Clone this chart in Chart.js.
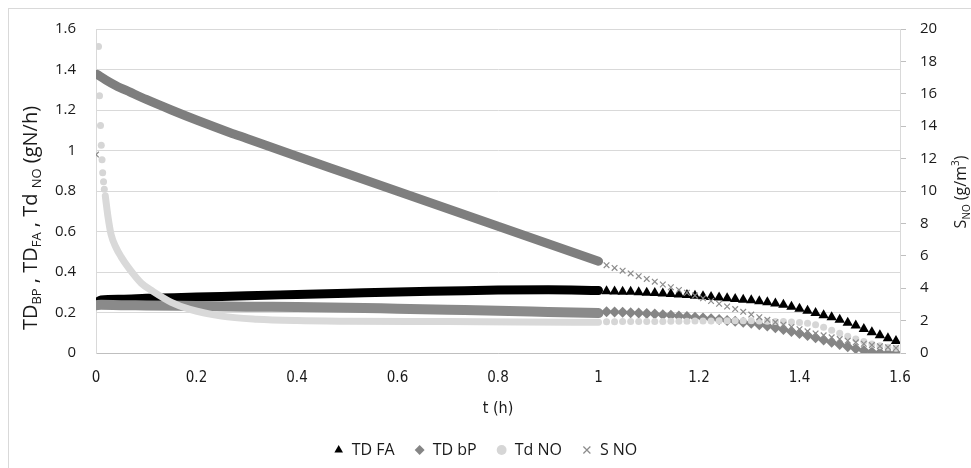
<!DOCTYPE html>
<html>
<head>
<meta charset="utf-8">
<script src="https://cdn.jsdelivr.net/npm/chart.js@4.4.1/dist/chart.umd.min.js"></script>
<style>
  html, body { margin: 0; padding: 0; background: #fff; }
  #frame { position: absolute; left: 8px; top: 8px; width: 1200px; height: 800px;
           border-left: 1px solid #d9d9d9; border-top: 1px solid #d9d9d9; }
  #chart { position: absolute; left: 0; top: 0; }
</style>
</head>
<body>
<div id="frame"></div>
<canvas id="chart" width="971" height="468"></canvas>
<script>
// dense part of the run (0 - 1 h): values read along the middle of each band
const bandT = [0, 0.01, 0.05, 0.1, 0.2, 0.3, 0.4, 0.5, 0.6, 0.7, 0.8, 0.9, 1.0];
const bandFA = [0.245, 0.262, 0.266, 0.270, 0.276, 0.283, 0.289, 0.295, 0.301, 0.306, 0.311, 0.312, 0.309];
const bandBP = [0.236, 0.238, 0.236, 0.235, 0.232, 0.229, 0.227, 0.224, 0.219, 0.214, 0.209, 0.203, 0.197];

const earlyNoT = [0.005, 0.007, 0.009, 0.0105, 0.012, 0.0133, 0.015, 0.0165];
const earlyNo = [1.513, 1.27, 1.124, 1.026, 0.954, 0.89, 0.846, 0.809];
const noBandT = [0.0185, 0.024, 0.03, 0.04, 0.05, 0.065, 0.09, 0.114, 0.15, 0.187, 0.25, 0.32, 0.4, 0.5, 0.7, 0.85, 1.0];
const noBand = [0.776, 0.67, 0.585, 0.52, 0.475, 0.42, 0.345, 0.303, 0.25, 0.215, 0.182, 0.167, 0.160, 0.157, 0.155, 0.153, 0.152];

const sFirstT = 0, sFirst = 12.25;
const sBandT = [0.002, 0.02, 0.04, 0.068, 0.1, 0.15, 0.2, 0.267, 0.3, 0.4, 0.5, 0.6, 0.7, 0.8, 0.9, 1.0];
const sBand = [17.2, 16.85, 16.5, 16.1, 15.65, 15.0, 14.38, 13.6, 13.24, 12.14, 11.06, 9.98, 8.9, 7.82, 6.74, 5.66];

// sparse part (1 - 1.6 h), one marker each
const sparseT = [1.016, 1.032, 1.048, 1.064, 1.08, 1.096, 1.112, 1.128, 1.144, 1.16, 1.176, 1.192,
    1.208, 1.224, 1.24, 1.256, 1.272, 1.288, 1.304, 1.32, 1.336, 1.352, 1.368, 1.384, 1.4, 1.416,
    1.432, 1.448, 1.464, 1.48, 1.496, 1.512, 1.528, 1.544, 1.56, 1.576, 1.592];
const tdFA = [0.305, 0.304, 0.303, 0.302, 0.300, 0.298, 0.296, 0.294, 0.291, 0.289, 0.286, 0.283,
    0.280, 0.277, 0.274, 0.270, 0.267, 0.263, 0.260, 0.256, 0.251, 0.245, 0.238, 0.229, 0.219, 0.209,
    0.198, 0.187, 0.176, 0.164, 0.150, 0.136, 0.119, 0.103, 0.088, 0.073, 0.059];
const tdBP = [0.204, 0.203, 0.201, 0.199, 0.197, 0.195, 0.192, 0.189, 0.186, 0.183, 0.180, 0.177,
    0.173, 0.169, 0.165, 0.161, 0.157, 0.152, 0.147, 0.140, 0.133, 0.125, 0.116, 0.106, 0.096, 0.086,
    0.075, 0.064, 0.053, 0.042, 0.031, 0.021, 0.012, 0.005, 0.001, 0, 0];
const tdNO = [0.154, 0.154, 0.155, 0.155, 0.155, 0.156, 0.156, 0.156, 0.157, 0.157, 0.157, 0.158,
    0.158, 0.158, 0.159, 0.159, 0.159, 0.159, 0.159, 0.158, 0.157, 0.156, 0.155, 0.153, 0.151, 0.147,
    0.140, 0.127, 0.112, 0.097, 0.083, 0.069, 0.057, 0.045, 0.036, 0.029, 0.024];
const sNO = [5.42, 5.25, 5.08, 4.91, 4.74, 4.57, 4.40, 4.23, 4.06, 3.89, 3.72, 3.55,
    3.38, 3.21, 3.04, 2.87, 2.71, 2.54, 2.37, 2.21, 2.05, 1.90, 1.75, 1.61, 1.47, 1.34,
    1.21, 1.09, 0.97, 0.86, 0.76, 0.66, 0.57, 0.49, 0.42, 0.36, 0.31];

const seriesNames = ['TD FA', 'TD bP', 'Td NO', 'S NO'];

const pts = (xs, ys) => xs.map((x, i) => ({ x: x, y: ys[i] }));
const tickText = v => String(Math.round(v * 10) / 10);

const font = "'Open Sans', 'DejaVu Sans', sans-serif";
const narrow = "'Liberation Sans Narrow', 'DejaVu Sans Condensed', sans-serif";
const textColor = '#1a1a1a';

// rotated axis titles with sub/superscripts
function drawRich(ctx, parts, x, y, size) {
    ctx.save();
    ctx.translate(x, y);
    ctx.rotate(-Math.PI / 2);
    ctx.fillStyle = textColor;
    ctx.textBaseline = 'alphabetic';
    ctx.textAlign = 'left';
    const small = Math.round(size * 0.64);
    let total = 0;
    for (const p of parts) {
        ctx.font = (p.sub || p.sup ? small : size) + 'px ' + font;
        p.w = ctx.measureText(p.t).width;
        total += p.w;
    }
    let cx = -total / 2;
    for (const p of parts) {
        ctx.font = (p.sub || p.sup ? small : size) + 'px ' + font;
        const dy = p.sub ? size * 0.22 : (p.sup ? -size * 0.42 : 0);
        ctx.fillText(p.t, cx, dy);
        cx += p.w;
    }
    ctx.restore();
}

const axisTitles = {
    id: 'axisTitles',
    afterDraw(chart) {
        drawRich(chart.ctx, [
            { t: 'TD' }, { t: 'BP', sub: true }, { t: ' , TD' }, { t: 'FA', sub: true },
            { t: ' , Td ' }, { t: 'NO', sub: true }, { t: ' (gN/h)' }
        ], 37, 218, 20);
        drawRich(chart.ctx, [
            { t: 'S' }, { t: 'NO', sub: true }, { t: ' (g/m' }, { t: '3', sup: true }, { t: ')' }
        ], 966, 192, 16);
    }
};

new Chart(document.getElementById('chart'), {
    type: 'scatter',
    data: {
        datasets: [{
            label: seriesNames[0],
            data: pts(sparseT, tdFA),
            pointStyle: 'triangle', pointRadius: 6,
            backgroundColor: '#000', borderColor: '#000', borderWidth: 0,
            order: 8
        }, {
            label: seriesNames[1],
            data: pts(sparseT, tdBP),
            pointStyle: 'rectRot', pointRadius: 5.5,
            backgroundColor: '#858585', borderColor: '#858585', borderWidth: 0,
            order: 6
        }, {
            label: seriesNames[2],
            data: pts(earlyNoT, earlyNo).concat(pts(sparseT, tdNO)),
            pointStyle: 'circle', pointRadius: 3.5,
            backgroundColor: '#d6d6d6', borderColor: '#d6d6d6', borderWidth: 0,
            order: 4
        }, {
            label: seriesNames[3],
            data: [{ x: sFirstT, y: sFirst }].concat(pts(sparseT, sNO)),
            yAxisID: 'y2',
            pointStyle: 'crossRot', pointRadius: 4,
            backgroundColor: '#8c8c8c', borderColor: '#8c8c8c', borderWidth: 1.2,
            order: 2
        }, {
            label: 'band FA',
            data: pts(bandT, bandFA),
            showLine: true, pointRadius: 0, borderColor: '#000', borderWidth: 9,
            borderCapStyle: 'round', borderJoinStyle: 'round', cubicInterpolationMode: 'monotone',
            order: 9
        }, {
            label: 'band bP',
            data: pts(bandT, bandBP),
            showLine: true, pointRadius: 0, borderColor: '#8a8a8a', borderWidth: 10,
            borderCapStyle: 'round', borderJoinStyle: 'round', cubicInterpolationMode: 'monotone',
            order: 7
        }, {
            label: 'band NO',
            data: pts(noBandT, noBand),
            showLine: true, pointRadius: 0, borderColor: '#d9d9d9', borderWidth: 7,
            borderCapStyle: 'round', borderJoinStyle: 'round', cubicInterpolationMode: 'monotone',
            order: 5
        }, {
            label: 'band S',
            data: pts(sBandT, sBand),
            yAxisID: 'y2',
            showLine: true, pointRadius: 0, borderColor: '#7e7e7e', borderWidth: 9,
            borderCapStyle: 'round', borderJoinStyle: 'round', cubicInterpolationMode: 'monotone',
            order: 3
        }]
    },
    options: {
        responsive: false,
        animation: false,
        layout: { padding: { top: 23, bottom: 0, left: 0, right: 0 } },
        scales: {
            x: {
                type: 'linear', min: 0, max: 1.6,
                ticks: { stepSize: 0.2, padding: 8, color: textColor, font: { family: narrow, size: 15 },
                         callback: tickText },
                grid: { display: false },
                border: { color: '#bfbfbf' },
                title: { display: true, text: 't (h)', color: textColor, padding: { top: 4, bottom: 4 },
                         font: { family: narrow, size: 16 } },
                afterFit: s => { s.height = 69; }
            },
            y: {
                position: 'left', min: 0, max: 1.6,
                ticks: { stepSize: 0.2, padding: 20, color: textColor, font: { family: font, size: 15 },
                         callback: tickText },
                grid: { color: '#d9d9d9', drawTicks: false },
                border: { color: '#d9d9d9' },
                afterFit: s => { s.width = 96; }
            },
            y2: {
                position: 'right', min: 0, max: 20,
                ticks: { stepSize: 2, padding: 14, color: textColor, font: { family: font, size: 15 } },
                grid: { drawOnChartArea: false, tickLength: 6, color: '#bfbfbf' },
                border: { color: '#d9d9d9' },
                afterFit: s => { s.width = 71; }
            }
        },
        plugins: {
            legend: {
                position: 'bottom',
                labels: {
                    usePointStyle: true, boxWidth: 10, boxHeight: 7, padding: 20,
                    color: textColor, font: { family: font, size: 16 },
                    filter: item => item.datasetIndex < 4,
                    sort: (a, b) => a.datasetIndex - b.datasetIndex
                }
            },
            tooltip: { enabled: false }
        }
    },
    plugins: [axisTitles]
});
</script>
</body>
</html>
